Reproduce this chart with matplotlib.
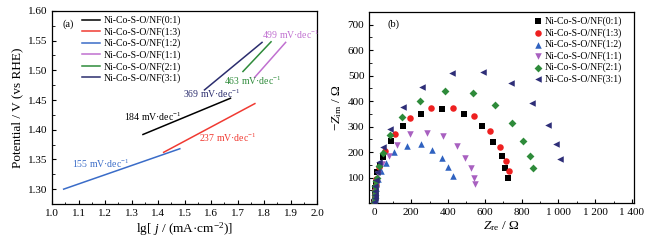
import matplotlib
matplotlib.use("Agg")
import matplotlib.pyplot as plt
from matplotlib.ticker import MultipleLocator, FuncFormatter

plt.rcParams['font.family'] = ['Liberation Serif', 'DejaVu Serif']
plt.rcParams['mathtext.fontset'] = 'custom'
plt.rcParams['mathtext.rm'] = 'Liberation Serif'
plt.rcParams['mathtext.it'] = 'Liberation Serif:italic'

labels = ['Ni-Co-S-O/NF(0:1)', 'Ni-Co-S-O/NF(1:3)', 'Ni-Co-S-O/NF(1:2)',
          'Ni-Co-S-O/NF(1:1)', 'Ni-Co-S-O/NF(2:1)', 'Ni-Co-S-O/NF(3:1)']
line_colors = ['#000000', '#F03A32', '#3A6CC8', '#C070D0', '#2E8B3A', '#2B2D6E']
mk_colors = ['#000000', '#EE2020', '#2F62C0', '#A860C0', '#2E8B3A', '#2E2E78']
markers = ['s', 'o', '^', 'v', 'D', '<']

# Panel (a) Tafel lines: start/end lg j and potential
tafel_x = [[1.343, 1.673], [1.421, 1.765], [1.044, 1.482],
           [1.764, 1.881], [1.720, 1.826], [1.575, 1.792]]
tafel_y = [[1.392, 1.453], [1.362, 1.444], [1.300, 1.368],
           [1.488, 1.547], [1.498, 1.548], [1.467, 1.547]]
slope_text = ['184', '237', '155', '499', '463', '369']
slope_pos = [(1.27, 1.422), (1.556, 1.387), (1.075, 1.343),
             (1.792, 1.560), (1.650, 1.482), (1.494, 1.461)]

# Panel (b) Nyquist data
zre = [
    [0, 1, 2, 4, 6, 9, 14, 28, 47, 88, 156, 253, 367, 488, 584, 647, 693, 711, 726],
    [0, 1, 2, 4, 7, 11, 24, 59, 114, 195, 307, 430, 543, 626, 684, 716, 734],
    [0, 1, 2, 4, 7, 11, 18, 36, 65, 105, 177, 253, 313, 367, 403, 430],
    [0, 1, 2, 4, 7, 12, 22, 42, 78, 123, 195, 286, 373, 449, 494, 526, 539, 548],
    [0, 1, 2, 3, 5, 8, 12, 24, 45, 87, 150, 250, 386, 534, 657, 750, 807, 846, 864],
    [0, 1, 2, 3, 5, 8, 12, 24, 47, 87, 156, 260, 420, 590, 745, 859, 942, 987, 1009],
]
zim = [
    [5, 18, 30, 45, 60, 80, 120, 150, 182, 245, 302, 350, 370, 350, 301, 241, 183, 138, 100],
    [5, 18, 32, 50, 70, 95, 140, 205, 271, 335, 372, 374, 340, 282, 221, 166, 124],
    [5, 15, 28, 42, 58, 75, 95, 124, 159, 199, 225, 232, 210, 177, 140, 107],
    [5, 15, 28, 42, 60, 80, 115, 153, 186, 229, 269, 275, 262, 223, 176, 137, 100, 73],
    [5, 18, 32, 48, 65, 85, 100, 146, 196, 265, 337, 401, 440, 432, 386, 315, 245, 183, 136],
    [5, 18, 32, 48, 65, 90, 120, 162, 221, 291, 377, 457, 512, 515, 469, 393, 308, 232, 171],
]

fig = plt.figure(figsize=(6.5, 2.42), dpi=100)
ax1 = fig.add_axes([0.080, 0.157, 0.408, 0.798])
ax2 = fig.add_axes([0.568, 0.161, 0.407, 0.790])

fs_tick = 8
fs_lab = 9.5
fs_leg = 7
fs_ann = 7

for i in range(6):
    ax1.plot(tafel_x[i], tafel_y[i], color=line_colors[i], lw=1.1, label=labels[i])
    ax1.text(slope_pos[i][0], slope_pos[i][1], slope_text[i] + ' mV·dec$^{-1}$',
             color=line_colors[i], fontsize=fs_ann, ha='left', va='center')

ax1.set_xlim(1.0, 2.0)
ax1.set_ylim(1.275, 1.60)
ax1.xaxis.set_major_locator(MultipleLocator(0.1))
ax1.xaxis.set_minor_locator(MultipleLocator(0.05))
ax1.yaxis.set_major_locator(MultipleLocator(0.05))
ax1.yaxis.set_minor_locator(MultipleLocator(0.025))
ax1.xaxis.set_major_formatter(FuncFormatter(lambda v, p: f'{v:.1f}'))
ax1.yaxis.set_major_formatter(FuncFormatter(lambda v, p: f'{v:.2f}'))
ax1.set_xlabel('lg[ $j$ / (mA·cm$^{-2}$)]', fontsize=fs_lab, labelpad=2)
ax1.set_ylabel('Potential / V (vs RHE)', fontsize=fs_lab, labelpad=3)
ax1.text(0.04, 0.92, '(a)', transform=ax1.transAxes, fontsize=fs_leg + 0.5)
ax1.legend(loc='upper left', bbox_to_anchor=(0.113, 0.975), frameon=False,
           fontsize=fs_leg, handlelength=1.9, handletextpad=0.35,
           labelspacing=0.2, borderaxespad=0.0, borderpad=0.0)

for i in range(6):
    ax2.scatter(zre[i], zim[i], marker=markers[i], color=mk_colors[i],
                s=22 if markers[i] != 'D' else 16, linewidths=0, label=labels[i], zorder=3)

ax2.set_xlim(-28, 1410)
ax2.set_ylim(0, 750)
ax2.xaxis.set_major_locator(MultipleLocator(200))
ax2.xaxis.set_minor_locator(MultipleLocator(100))
ax2.set_yticks([100, 200, 300, 400, 500, 600, 700])
ax2.yaxis.set_minor_locator(MultipleLocator(50))
ax2.xaxis.set_major_formatter(FuncFormatter(
    lambda v, p: (f'{int(v):,}'.replace(',', ' ')) if v >= 0 else ''))
ax2.set_xlabel('$Z_{\\rm re}$ / Ω', fontsize=fs_lab, labelpad=2)
ax2.set_ylabel('$-Z_{\\rm im}$ / Ω', fontsize=fs_lab, labelpad=3)
ax2.text(0.07, 0.92, '(b)', transform=ax2.transAxes, fontsize=fs_leg + 0.5)
ax2.legend(loc='upper right', bbox_to_anchor=(0.955, 0.975), frameon=False,
           fontsize=fs_leg, handletextpad=0.1, labelspacing=0.2, borderaxespad=0.0,
           borderpad=0.0, scatterpoints=1, handlelength=1.2)

for ax in (ax1, ax2):
    ax.tick_params(which='both', direction='in', labelsize=fs_tick, top=False, right=False)
    ax.tick_params(which='major', length=3, width=0.8)
    ax.tick_params(which='minor', length=1.8, width=0.6)
    for s in ax.spines.values():
        s.set_linewidth(0.9)

fig.savefig('out.png', dpi=100)
